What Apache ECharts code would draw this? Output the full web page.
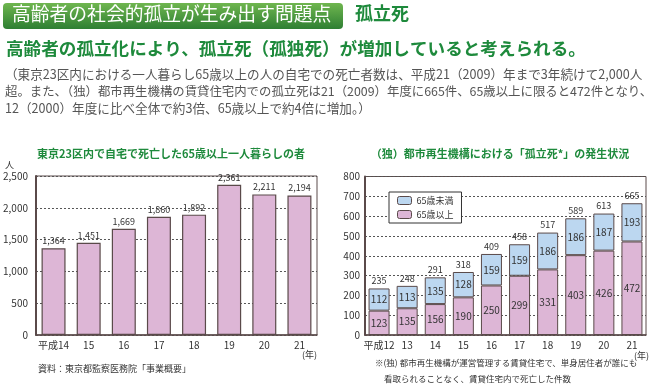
<!DOCTYPE html>
<html><head><meta charset="utf-8">
<script src="https://cdn.jsdelivr.net/npm/echarts@6/dist/echarts.min.js"></script>
<style>html,body{margin:0;padding:0;background:#fff}#c{width:650px;height:384px}</style>
</head><body><div id="c"></div>
<script>
// ---- data ----
var leftCats = ['平成14','15','16','17','18','19','20','21'];
var leftVals = [1364,1451,1669,1860,1892,2361,2211,2194];
var leftTicks = [0,500,1000,1500,2000,2500];
var rightCats = ['平成12','13','14','15','16','17','18','19','20','21'];
var over65 = [123,135,156,190,250,299,331,403,426,472];
var under65 = [112,113,135,128,159,159,186,186,187,193];
var totals = [235,248,291,318,409,458,517,589,613,665];
var rightTicks = [0,100,200,300,400,500,600,700,800];

var FONT = '"Noto Sans CJK JP", "Noto Sans", sans-serif';
var GREEN = '#1e8a3c';
var PINK = '#ddb6d6';
var BLUE = '#bcd7f0';
var EDGE = '#5a4a4a';
var chart = echarts.init(document.getElementById('c'));
function fmt(v){return Number(v).toLocaleString('en-US');}

var option = {
  animation:false,
  textStyle:{fontFamily:FONT},
  grid:[
    {left:33,top:176,width:284,height:159,show:true,borderColor:EDGE,borderWidth:1},
    {left:365,top:176.5,width:281,height:158.5,show:true,borderColor:EDGE,borderWidth:1}
  ],
  legend:{
    data:['65歳未満','65歳以上'],
    left:389, top:192, orient:'vertical',
    backgroundColor:'#fff', borderColor:'#333', borderWidth:1, borderRadius:0,
    padding:[4,8,4,8], itemWidth:14, itemHeight:8, itemGap:5,
    textStyle:{fontSize:9,color:'#333',fontFamily:FONT},
    itemStyle:{borderColor:EDGE,borderWidth:1}
  },
  xAxis:[
    {type:'category',gridIndex:0,data:leftCats,axisTick:{show:false},
     axisLine:{lineStyle:{color:EDGE,width:1.5}},
     axisLabel:{interval:0,fontSize:10,color:'#333',margin:5,fontFamily:FONT}},
    {type:'category',gridIndex:1,data:rightCats,axisTick:{show:false},
     axisLine:{lineStyle:{color:EDGE,width:1.5}},
     axisLabel:{interval:0,fontSize:10,color:'#333',margin:5,fontFamily:FONT}}
  ],
  yAxis:[
    {type:'value',gridIndex:0,min:leftTicks[0],max:leftTicks[leftTicks.length-1],interval:500,
     axisLine:{show:true,lineStyle:{color:EDGE,width:2}},axisTick:{show:false},
     splitLine:{lineStyle:{color:'#555',type:[2,2],width:1}},
     axisLabel:{fontSize:10,color:'#333',margin:8,formatter:fmt,fontFamily:FONT}},
    {type:'value',gridIndex:1,min:rightTicks[0],max:rightTicks[rightTicks.length-1],interval:100,
     axisLine:{show:true,lineStyle:{color:EDGE,width:2}},axisTick:{show:false},
     splitLine:{lineStyle:{color:'#555',type:[2,2],width:1}},
     axisLabel:{fontSize:10,color:'#333',margin:5,fontFamily:FONT}}
  ],
  series:[
    {type:'bar',xAxisIndex:0,yAxisIndex:0,data:leftVals,barWidth:24,
     itemStyle:{color:PINK,borderColor:EDGE,borderWidth:1.2},
     label:{show:true,position:'top',distance:3,fontSize:9,color:'#333',formatter:function(p){return fmt(p.value);}}},
    {name:'65歳以上',type:'bar',xAxisIndex:1,yAxisIndex:1,stack:'r',data:over65,barWidth:21,
     itemStyle:{color:PINK,borderColor:EDGE,borderWidth:1},
     label:{show:true,position:'inside',fontSize:10,color:'#333'}},
    {name:'65歳未満',type:'bar',xAxisIndex:1,yAxisIndex:1,stack:'r',data:under65,barWidth:21,
     itemStyle:{color:BLUE,borderColor:EDGE,borderWidth:1},
     label:{show:true,position:'inside',fontSize:10,color:'#333'}},
    {name:'total',type:'bar',xAxisIndex:1,yAxisIndex:1,stack:'r',data:totals.map(function(){return 0;}),barWidth:21,
     itemStyle:{color:'transparent'},
     label:{show:true,position:'top',distance:3,fontSize:9,color:'#333',
       formatter:function(p){return totals[p.dataIndex];}}}
  ],
  graphic:[
    {type:'rect',left:3,top:3,shape:{width:340,height:26,r:4},
     style:{fill:new echarts.graphic.LinearGradient(0,0,0,1,[{offset:0,color:'#6fb64f'},{offset:1,color:'#2e7f33'}])}},
    {type:'text',x:12,y:4,style:{text:'高齢者の社会的孤立が生み出す問題点',fill:'#fff',font:'18.8px '+FONT}},
    {type:'text',x:355,y:4,style:{text:'孤立死',fill:GREEN,font:'bold 18px '+FONT}},
    {type:'text',x:6,y:40,style:{text:'高齢者の孤立化により、孤立死（孤独死）が増加していると考えられる。',fill:GREEN,font:'bold 17.6px '+FONT}},
    {type:'text',x:5,y:68,style:{text:'（東京23区内における一人暮らし65歳以上の人の自宅での死亡者数は、平成21（2009）年まで3年続けて2,000人',fill:'#555',font:'12.6px '+FONT}},
    {type:'text',x:5,y:85,style:{text:'超。また、（独）都市再生機構の賃貸住宅内での孤立死は21（2009）年度に665件、65歳以上に限ると472件となり、',fill:'#555',font:'12.4px '+FONT}},
    {type:'text',x:5,y:102,style:{text:'12（2000）年度に比べ全体で約3倍、65歳以上で約4倍に増加。）',fill:'#555',font:'12.6px '+FONT}},
    {type:'text',x:171,y:154,style:{text:'東京23区内で自宅で死亡した65歳以上一人暮らしの者',fill:GREEN,font:'bold 11px '+FONT,align:'center',verticalAlign:'middle'}},
    {type:'text',x:500,y:154,style:{text:'（独）都市再生機構における「孤立死*」の発生状況',fill:GREEN,font:'bold 11px '+FONT,align:'center',verticalAlign:'middle'}},
    {type:'text',x:5,y:165,style:{text:'人',fill:'#333',font:'9px '+FONT,verticalAlign:'middle'}},
    {type:'text',x:302,y:355,style:{text:'(年)',fill:'#333',font:'9px '+FONT,verticalAlign:'middle'}},
    {type:'text',x:634,y:356,style:{text:'(年)',fill:'#333',font:'9px '+FONT,verticalAlign:'middle'}},
    {type:'text',x:38,y:369,style:{text:'資料：東京都監察医務院「事業概要」',fill:'#333',font:'9px '+FONT,verticalAlign:'middle'}},
    {type:'text',x:375,y:363,style:{text:'※(独) 都市再生機構が運営管理する賃貸住宅で、単身居住者が誰にも',fill:'#333',font:'8.5px '+FONT,verticalAlign:'middle'}},
    {type:'text',x:384,y:379,style:{text:'看取られることなく、賃貸住宅内で死亡した件数',fill:'#333',font:'8.5px '+FONT,verticalAlign:'middle'}}
  ]
};
chart.setOption(option);
</script></body></html>
